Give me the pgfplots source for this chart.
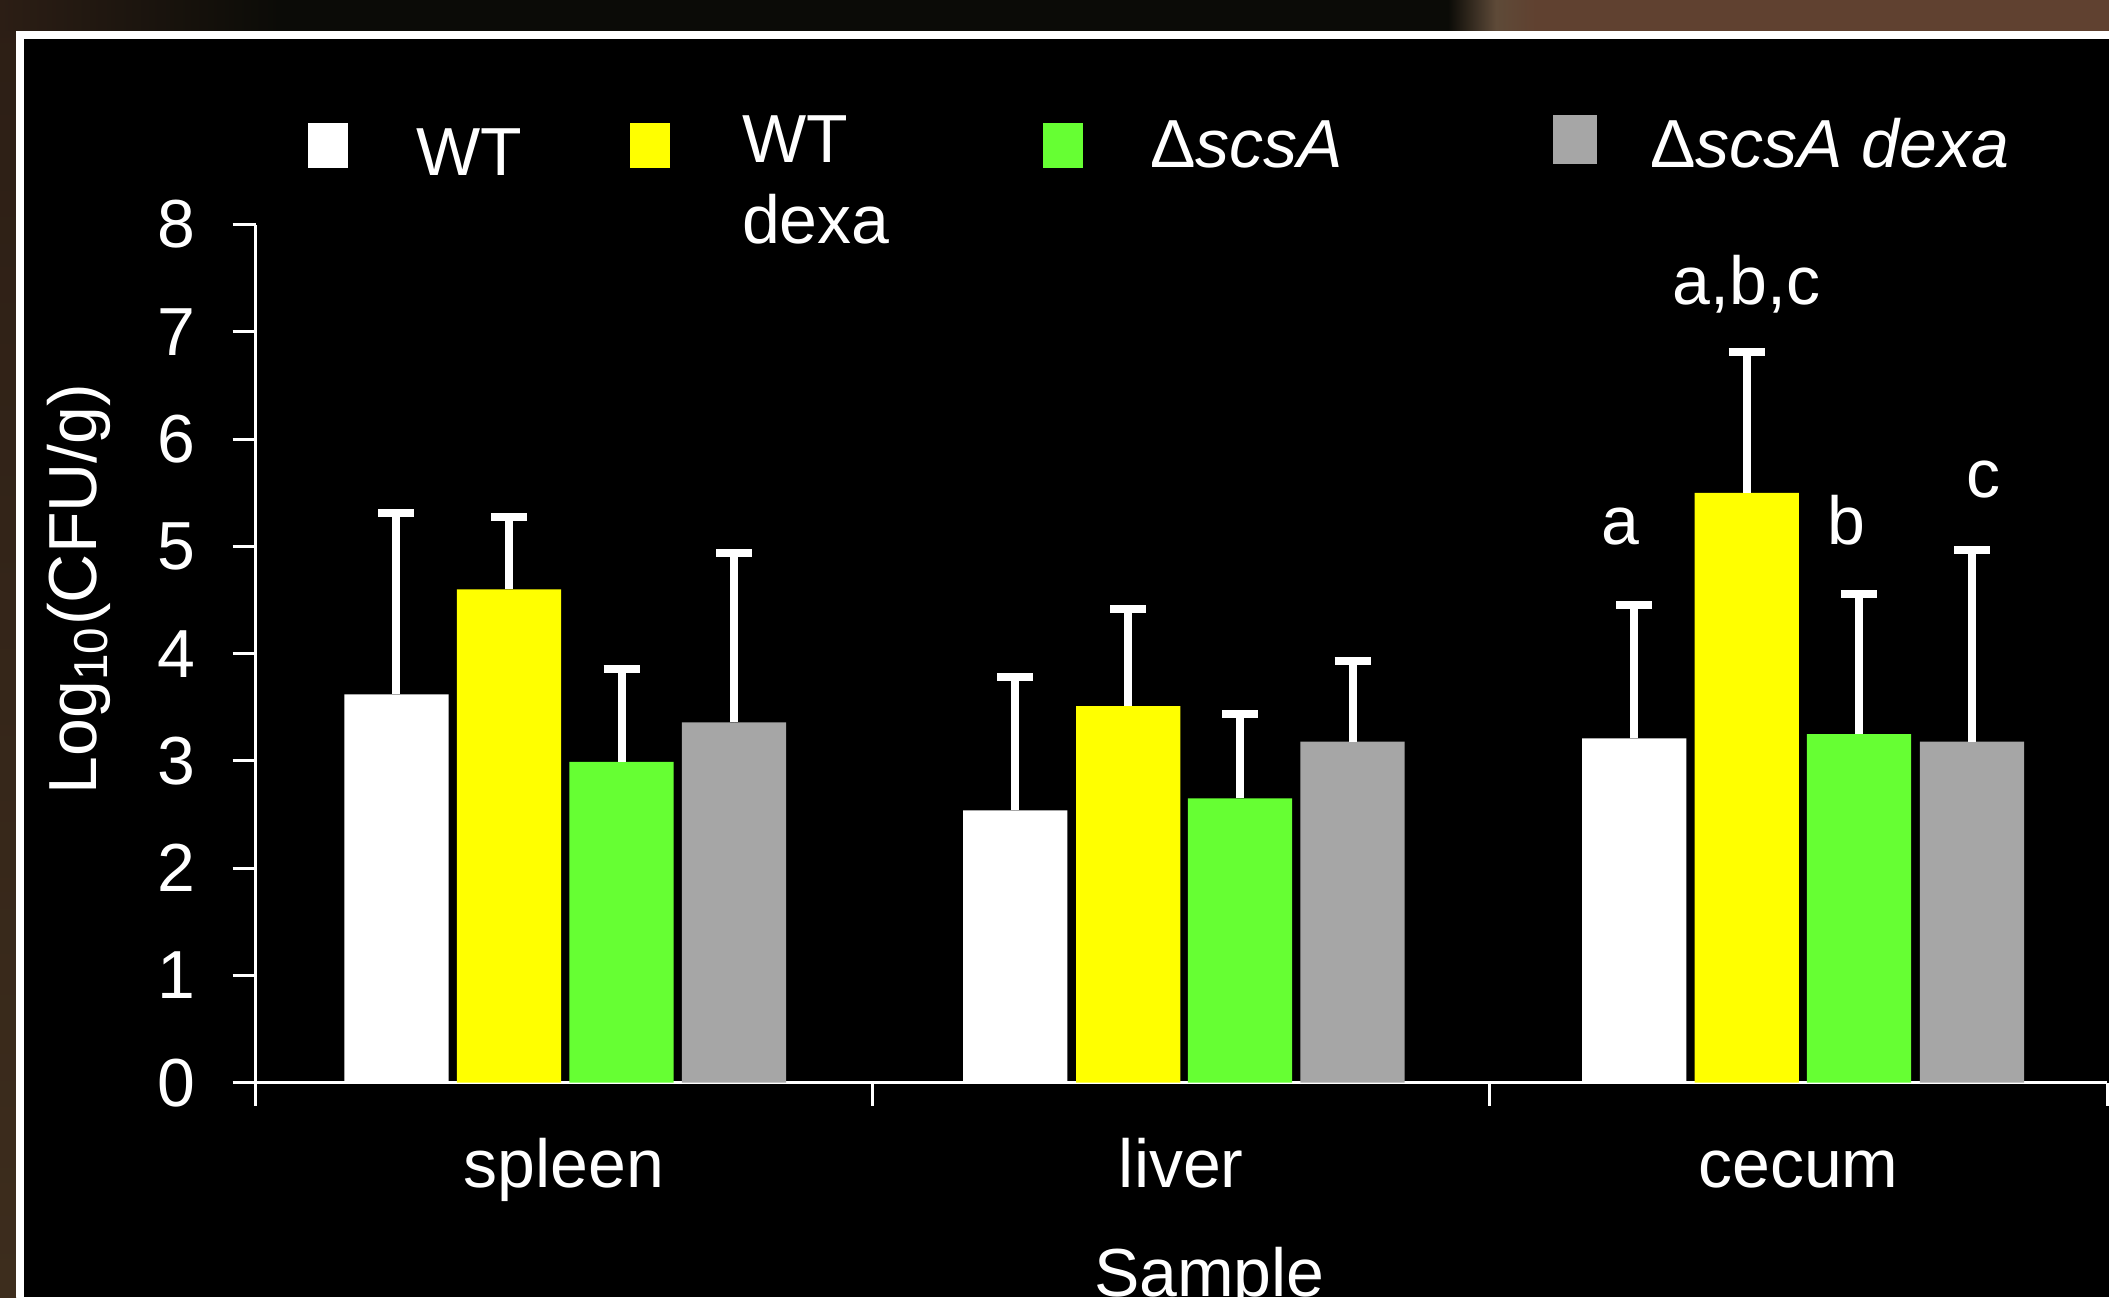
\documentclass[border=0pt]{standalone}
\usepackage{pgfplots}
\pgfplotsset{compat=1.18}
\usepackage{fontspec}
\setmainfont{Liberation Sans}
\definecolor{cWT}{HTML}{FFFFFF}
\definecolor{cWTd}{HTML}{FFFF00}
\definecolor{cS}{HTML}{66FF33}
\definecolor{cSd}{HTML}{A6A6A6}
\definecolor{bgL}{HTML}{2C1E15}
\definecolor{bgLb}{HTML}{3D2D1D}
\definecolor{bgK}{HTML}{0B0B07}
\definecolor{bgB}{HTML}{604130}
\definecolor{bgM}{HTML}{5E4A38}
\newcommand{\fs}{\fontsize{17}{20.4}\selectfont}
\begin{document}
\begin{tikzpicture}
\useasboundingbox (0,0) rectangle (527.25pt,324.25pt);
\clip (0,0) rectangle (527.25pt,324.25pt);
% background
\fill[black] (0,0) rectangle (527.25pt,324.25pt);
\shade[top color=bgL, bottom color=bgLb] (0,0) rectangle (4pt,324.25pt);
\shade[left color=bgL, right color=bgK] (0,316.5pt) rectangle (70pt,324.25pt);
\fill[bgK] (70pt,316.5pt) rectangle (362pt,324.25pt);
\shade[left color=bgK, right color=bgM] (362pt,316.5pt) rectangle (374pt,324.25pt);
\shade[left color=bgM, right color=bgB] (374pt,316.5pt) rectangle (384pt,324.25pt);
\fill[bgB] (384pt,316.5pt) rectangle (527.25pt,324.25pt);
\fill[white] (4pt,314.5pt) rectangle (527.25pt,316.5pt);
\fill[white] (4pt,0) rectangle (6pt,316.5pt);
\begin{axis}[
  at={(63.9pt,53.575pt)}, anchor=south west,
  scale only axis, width=462.85pt, height=214.53pt,
  xmin=0, xmax=3, ymin=0, ymax=8,
  clip=false,
  axis x line*=bottom, axis y line*=left,
  axis line style={-, white, line width=0.875pt},
  tick align=outside, major tick length=5.75pt,
  tick style={white, line width=0.75pt},
  ytick={0,1,2,3,4,5,6,7,8},
  xtick={0,1,2,3}, xticklabels={},
  extra x ticks={0.5,1.5,2.5},
  extra x tick labels={spleen,liver,cecum},
  extra x tick style={major tick length=0pt, tick label style={anchor=base, inner sep=0pt, yshift=-26.1pt}},
  ticklabel style={font=\fs, text=white},
  /pgf/number format/assume math mode=true,
  yticklabel style={inner sep=0pt, xshift=-9pt},
  xlabel={Sample}, ylabel={Log\textsubscript{10}(CFU/g)},
  label style={font=\fs, text=white},
  xlabel style={at={(axis description cs:0.5152,-0.2497)}, anchor=base, inner sep=0pt},
  ylabel style={at={(axis description cs:-0.0857,0.5753)}, anchor=base, inner sep=0pt},
  legend columns=4,
  legend style={at={(axis description cs:0.0283,1.1359)}, anchor=north west,
    draw=none, fill=none, inner sep=0pt, outer sep=0pt, column sep=0pt, row sep=0pt,
    cells={anchor=base west},
    nodes={inner sep=0pt, text height=15pt, text depth=5pt, text=white, font=\fs}},
  mybar/.style={ybar, bar width=0.169, bar shift=0pt, draw=none,
    error bars/y dir=plus, error bars/y explicit,
    error bars/error bar style={white, line width=2pt},
    error bars/error mark options={rotate=90, white, line width=2pt, mark size=4.5pt}},
]
\addplot[fill=cWT, mybar, legend image code/.code={\fill[cWT] (0pt,0pt) rectangle (10pt,11.25pt);}]
  coordinates {(0.2283,3.62) +- (0,1.69) (1.2309,2.54) +- (0,1.24) (2.2340,3.21) +- (0,1.24)};
\addlegendentry{\makebox[70.5pt][l]{\hspace*{17pt}\raisebox{-2pt}{WT}}}
\addplot[fill=cWTd, mybar, legend image code/.code={\fill[cWTd] (0pt,0pt) rectangle (10pt,11.25pt);}]
  coordinates {(0.4106,4.60) +- (0,0.67) (1.4139,3.51) +- (0,0.91) (2.4162,5.50) +- (0,1.31)};
\addlegendentry{\makebox[93.25pt][l]{\hspace*{18pt}\rlap{\raisebox{1.25pt}{WT}}\raisebox{-19pt}{dexa}}}
\addplot[fill=cS, mybar, legend image code/.code={\fill[cS] (0pt,0pt) rectangle (10pt,11.25pt);}]
  coordinates {(0.5930,2.99) +- (0,0.87) (1.5952,2.65) +- (0,0.79) (2.5980,3.25) +- (0,1.31)};
\addlegendentry{\makebox[117.5pt][l]{\hspace*{16.85pt}Δ\textit{scsA}}}
\addplot[fill=cSd, mybar, legend image code/.code={\fill[cSd] (0pt,1pt) rectangle (11pt,13.25pt);}]
  coordinates {(0.7752,3.36) +- (0,1.58) (1.7775,3.18) +- (0,0.75) (2.7813,3.18) +- (0,1.79)};
\addlegendentry{\hspace*{13.25pt}Δ\textit{scsA dexa}}
\node[anchor=base, text=white, font=\fs] at (axis cs:2.211,5.02) {a};
\node[anchor=base, text=white, font=\fs] at (axis cs:2.416,7.255) {a,b,c};
\node[anchor=base, text=white, font=\fs] at (axis cs:2.577,5.02) {b};
\node[anchor=base, text=white, font=\fs] at (axis cs:2.800,5.46) {c};
\end{axis}
\end{tikzpicture}
\end{document}
